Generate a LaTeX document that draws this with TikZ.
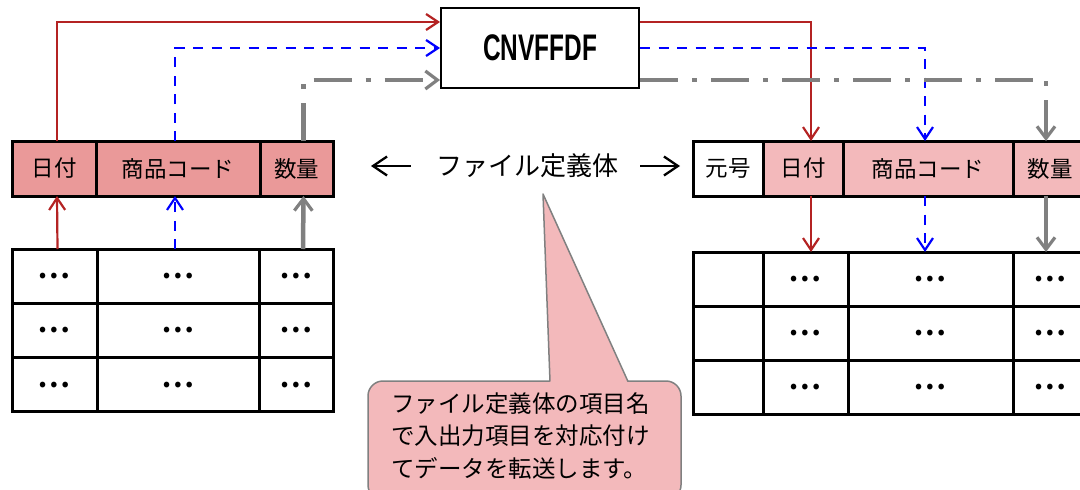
\documentclass[tikz,border=0pt]{standalone}
\usepackage{fontspec}
\setmainfont{Noto Sans CJK JP}
\newfontfamily\cnvfont{Liberation Sans}
\newfontfamily\dotfont{Noto Sans CJK JP Bold}
\usetikzlibrary{arrows.meta,calc}
\definecolor{hdrdark}{RGB}{234,153,153}
\definecolor{hdrlight}{RGB}{243,185,187}
\definecolor{lnred}{RGB}{180,35,35}
\definecolor{lnblue}{RGB}{0,0,255}
\definecolor{lngray}{RGB}{128,128,128}
\begin{document}
\begin{tikzpicture}[x=1pt,y=-1pt,
  cell/.style={draw=black,line width=3pt,anchor=north west,inner sep=0pt,outer sep=0pt,
    font=\fontsize{22.5}{26}\selectfont},
  dots/.style={cell,font=\dotfont\fontsize{30}{30}\selectfont},
  tip/.style={-{Straight Barb[length=12pt,width=16pt,line width=2.2pt]}},
  redln/.style={tip,draw=lnred,line width=2.2pt},
  blueln/.style={tip,draw=lnblue,line width=2.2pt,dash pattern=on 10pt off 8.5pt},
  grayln/.style={tip,draw=lngray,line width=4.5pt,
     -{Straight Barb[length=12pt,width=18pt,line width=3.2pt]}},
  graydd/.style={grayln,dash pattern=on 38pt off 14pt on 5pt off 14pt},
  thinarr/.style={draw=black,line width=2.3pt,-{Straight Barb[length=14pt,width=19pt,line width=2.3pt]}}
]
\useasboundingbox (0,0) rectangle (1080,490);

% left header
\node[cell,fill=hdrdark,minimum width=84pt,minimum height=55pt] (lh1) at (12,141) {日付};
\node[cell,fill=hdrdark,minimum width=164pt,minimum height=55pt] (lh2) at (96,141) {商品コード};
\node[cell,fill=hdrdark,minimum width=73pt,minimum height=55pt] (lh3) at (260,141) {数量};

% left table
\foreach \r/\y in {1/249,2/303.3,3/357.6}{
  \node[dots,minimum width=85pt,minimum height=54.3pt] (lt\r a) at (12,\y) {…};
  \node[dots,minimum width=162pt,minimum height=54.3pt] (lt\r b) at (97,\y) {…};
  \node[dots,minimum width=74pt,minimum height=54.3pt] (lt\r c) at (259,\y) {…};
}

% CNVFFDF box
\node[draw=black,line width=2pt,anchor=north west,inner sep=0pt,minimum width=198pt,minimum height=80pt] (cnv) at (440,7)
  {\scalebox{0.66}[1]{\cnvfont\bfseries\fontsize{37}{40}\selectfont CNVFFDF}};

% right header
\node[cell,fill=white,minimum width=70pt,minimum height=55pt] (rh1) at (693,141) {元号};
\node[cell,fill=hdrlight,minimum width=80pt,minimum height=55pt] (rh2) at (763,141) {日付};
\node[cell,fill=hdrlight,minimum width=170pt,minimum height=55pt] (rh3) at (843,141) {商品コード};
\node[cell,fill=hdrlight,minimum width=74pt,minimum height=55pt] (rh4) at (1013,141) {数量};

% right table
\foreach \r/\y in {1/252,2/306,3/360}{
  \node[dots,minimum width=70pt,minimum height=54pt] (rt\r a) at (693,\y) {};
  \node[dots,minimum width=85pt,minimum height=54pt] (rt\r b) at (763,\y) {…};
  \node[dots,minimum width=165pt,minimum height=54pt] (rt\r c) at (848,\y) {…};
  \node[dots,minimum width=74pt,minimum height=54pt] (rt\r d) at (1013,\y) {…};
}

% left connectors: table -> header
\draw[redln] ([xshift=3pt]lt1a.north) -- ([xshift=3pt]lh1.south);
\draw[blueln] ([xshift=-3pt]lt1b.north) -- ([xshift=-3pt]lh2.south);
\draw[grayln] ([xshift=7pt]lt1c.north) -- ([xshift=7pt]lh3.south);

% left header -> CNVFFDF
\draw[redln] ([xshift=3pt]lh1.north) |- ([yshift=-15pt]cnv.north west);
\draw[blueln] ([xshift=-3pt]lh2.north) |- (cnv.west);
\draw[graydd] ([xshift=7pt]lh3.north) |- ([yshift=9pt]cnv.south west);

% CNVFFDF -> right header
\draw[redln] ([yshift=-15pt]cnv.north east) -| ([xshift=8pt]rh2.north);
\draw[blueln] (cnv.east) -| ([xshift=-3pt]rh3.north);
\draw[graydd] ([yshift=9pt]cnv.south east) -| ([xshift=-4pt]rh4.north);

% right header -> right table
\draw[redln] ([xshift=8pt]rh2.south) -- ([xshift=8pt]rt1b.north -| rh2.south);
\draw[blueln] ([xshift=-3pt]rh3.south) -- ([xshift=-3pt]rt1c.north -| rh3.south);
\draw[grayln] ([xshift=-4pt]rh4.south) -- ([xshift=-4pt]rt1d.north -| rh4.south);

% middle label
\node[inner sep=0pt,font=\fontsize{26}{30}\selectfont] (lbl) at (527,166) {ファイル定義体};
\draw[thinarr,shorten <=25pt,shorten >=38pt] (lbl.west) -- (lbl.west -| lh3.east);
\draw[thinarr,shorten <=22pt,shorten >=13pt] (lbl.east) -- (lbl.east -| rh1.west);

% callout
\coordinate (ptip) at (543,194);
\filldraw[fill=hdrlight,draw=lngray,line width=1.5pt,rounded corners=15pt] (368,381) rectangle (681,500);
\fill[hdrlight] (550,383) -- (ptip) -- (628,383) -- cycle;
\draw[draw=lngray,line width=1.5pt,line join=round] (550,381.5) -- (ptip) -- (628,381.5);
\node[anchor=north west,inner sep=0pt,align=left,font=\fontsize{23.5}{32.5}\selectfont] (note) at (391,392)
  {ファイル定義体の項目名\\で入出力項目を対応付け\\てデータを転送します。};
\end{tikzpicture}
\end{document}
